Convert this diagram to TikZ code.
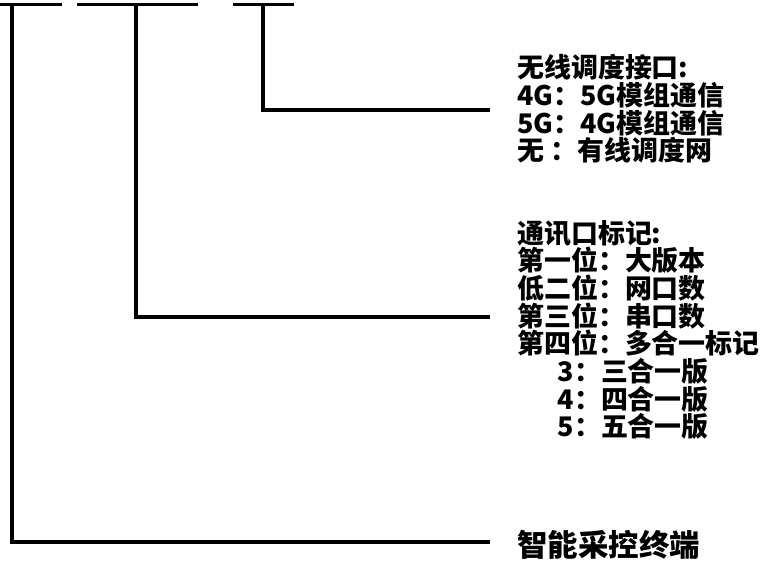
\documentclass[tikz,border=0pt]{standalone}
\usepackage{fontspec}
\newfontfamily\cjk{Noto Sans CJK SC}
\usepackage{tikz}

\begin{document}
\begin{tikzpicture}[x=0.03cm,y=-0.03cm,
    bar/.style={line width=3pt},
    lab/.style={font=\cjk\bfseries\fontsize{23}{23.6}\selectfont,align=left,anchor=west,inner sep=0pt}]
      \useasboundingbox (0,0) rectangle (760,561);
      \node[lab] (wireless) at (517,109) {无线调度接口:\\4G：5G模组通信\\5G：4G模组通信\\无 ：有线调度网};
      \node[lab] (ports) at (517,330) {通讯口标记:\\第一位：大版本\\低二位：网口数\\第三位：串口数\\第四位：多合一标记\\
        \hspace*{1.5em}3：三合一版\\\hspace*{1.5em}4：四合一版\\\hspace*{1.5em}5：五合一版};
      \node[lab,font=\cjk\bfseries\fontsize{26}{27}\selectfont] (term) at (517,545) {智能采控终端};
      \coordinate (t1) at (12,4.5);
      \coordinate (t2) at (136,4.5);
      \coordinate (t3) at (263,4.5);
      \coordinate (e1) at (490,542);
      \coordinate (e2) at (490,317);
      \coordinate (e3) at (490,110);
      \draw[bar] (0,4.5) -- (62,4.5);
      \draw[bar] (77,4.5) -- (198,4.5);
      \draw[bar] (233,4.5) -- (294,4.5);
      \draw[bar] (t1) |- (e1);
      \draw[bar] (t2) |- (e2);
      \draw[bar] (t3) |- (e3);
\end{tikzpicture}
\end{document}
